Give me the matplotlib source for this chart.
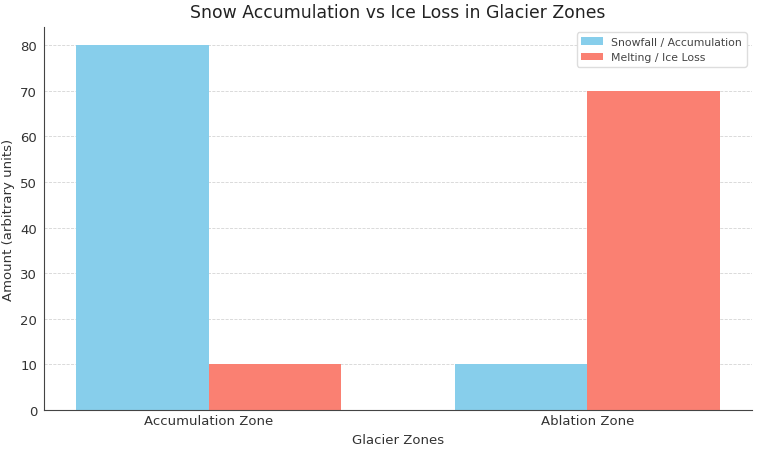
import numpy as np
import matplotlib.pyplot as plt

zones = ["Accumulation Zone", "Ablation Zone"]
snowfall = [80, 10]
melting = [10, 70]

x = np.arange(len(zones))
width = 0.35

fig = plt.figure(figsize=(7.58, 4.52), dpi=100, facecolor="white")
ax = fig.add_axes([0.058, 0.091, 0.934, 0.847])
ax.bar(x - width/2, snowfall, width, color="skyblue", label="Snowfall / Accumulation", zorder=2)
ax.bar(x + width/2, melting, width, color="salmon", label="Melting / Ice Loss", zorder=2)

ax.set_xticks(x)
ax.set_xticklabels(zones)
ax.set_xlabel("Glacier Zones", fontsize=9.5, color="#333333", labelpad=4)
ax.set_ylabel("Amount (arbitrary units)", fontsize=9.5, color="#333333", labelpad=4)
ax.set_title("Snow Accumulation vs Ice Loss in Glacier Zones", fontsize=12.4, color="#222222", pad=7)
ax.grid(axis="y", linestyle="--", linewidth=0.6, color="#d5d5d5", zorder=0)
ax.set_axisbelow(True)
for s in ["top", "right"]:
    ax.spines[s].set_visible(False)
for s in ["left", "bottom"]:
    ax.spines[s].set_color("#444444")
ax.tick_params(colors="#333333", labelsize=9.5, length=0)
ax.tick_params(axis="y", pad=5)
ax.tick_params(axis="x", pad=3)
ax.legend(loc="upper right", fontsize=7.8, framealpha=1, edgecolor="#dddddd", labelcolor="#444444")

fig.savefig("out.png", dpi=100, facecolor="white")
